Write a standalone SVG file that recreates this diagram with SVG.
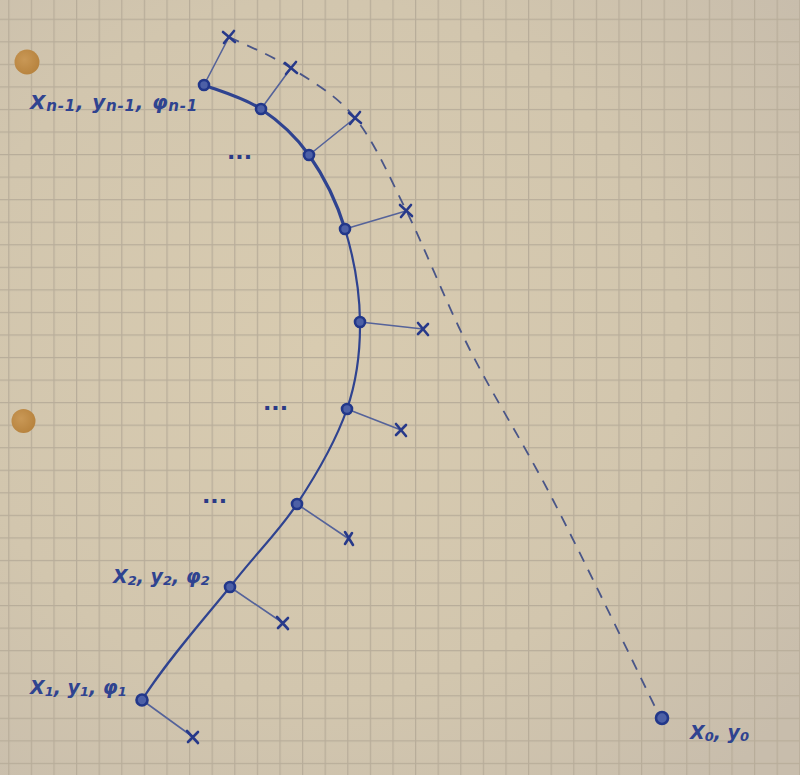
<svg xmlns="http://www.w3.org/2000/svg" width="800" height="775" viewBox="0 0 800 775">
<defs>
<radialGradient id="paper" cx="0.4" cy="0.45" r="0.75">
<stop offset="0" stop-color="#d8cbb0"/>
<stop offset="0.6" stop-color="#d2c6ae"/>
<stop offset="1" stop-color="#c8bdac"/>
</radialGradient>
<pattern id="grid" patternUnits="userSpaceOnUse" x="8.2" y="18.7" width="22.6" height="22.55">
<path d="M0.6,0 V22.55 M0,0.6 H22.6" stroke="#b8ad9a" stroke-width="1.3" fill="none"/>
</pattern>
<radialGradient id="hole" cx="0.4" cy="0.4" r="0.6">
<stop offset="0" stop-color="#c99856"/>
<stop offset="1" stop-color="#b8843f"/>
</radialGradient>
</defs>
<style>
.ink{stroke:#2f4390;fill:none;stroke-linecap:round;stroke-linejoin:round}
.main{stroke-width:3.2}
.thin{stroke-width:2.2}
.spoke{stroke:#55639a;stroke-width:1.6;fill:none;stroke-linecap:round}
.cross{stroke:#27398a;stroke-width:2.6;fill:none;stroke-linecap:round}
.node{fill:#4d60a6;stroke:#22378a;stroke-width:2.6}
.dash{stroke:#4a5688;stroke-width:1.8;fill:none;stroke-dasharray:11 9}
.lbl{font-family:"DejaVu Sans","Liberation Sans",sans-serif;font-style:italic;font-size:19px;fill:#2f4390;font-weight:bold}
.sub{font-size:13px}
.top{font-size:20px;letter-spacing:0.8px}
.top .sub{font-size:15px}
.dots{font-family:"DejaVu Sans",sans-serif;font-size:22px;fill:#2a3a86;font-weight:bold}
</style>
<rect width="800" height="775" fill="url(#paper)"/>
<rect width="800" height="775" fill="url(#grid)"/>
<circle cx="27" cy="62" r="12.5" fill="url(#hole)"/>
<circle cx="23.5" cy="421" r="12" fill="url(#hole)"/>

<g id="connectors">
<path class="ink main" d="M204,85 C213.5,89 243.5,97.3 261,109 C278.5,120.7 295,135 309,155 C323,175 336.5,201.2 345,229"/>
<path class="ink thin" d="M345,229 C353.5,256.8 359.7,292 360,322 C360.3,352 357.5,378.7 347,409 C336.5,439.3 316.5,474.5 297,504 C277.5,533.5 255.8,553.3 230,587 C204.2,618.7 166.7,661 142,700"/>
<path class="dash" d="M229,37 C239.3,42.2 270,54.5 291,68 C312,81.5 335.8,94.3 355,118 C374.2,141.7 386.8,171.3 406,210 C425.2,248.7 445.5,301.7 470,350 C494.5,398.3 521.8,439.8 553,500 C584.2,560.2 639.7,675.8 657,711"/>
</g>

<g id="node-n-1">
<line class="spoke" x1="204" y1="85" x2="229" y2="37"/>
<path class="cross" d="M223,32 L235,42 M234,31 L224,43"/>
<circle class="node" cx="204" cy="85" r="5"/>
<text class="lbl top" x="30" y="109">X<tspan class="sub" dy="2">n-1</tspan><tspan dy="-2">, y</tspan><tspan class="sub" dy="2">n-1</tspan><tspan dy="-2">, φ</tspan><tspan class="sub" dy="2">n-1</tspan></text>
</g>
<g id="node-a">
<line class="spoke" x1="261" y1="109" x2="291" y2="68"/>
<path class="cross" d="M285,63 L297,73 M296,62 L286,74"/>
<circle class="node" cx="261" cy="109" r="5"/>
</g>
<g id="node-b">
<line class="spoke" x1="309" y1="155" x2="355" y2="118"/>
<path class="cross" d="M349,113 L361,123 M360,112 L350,124"/>
<circle class="node" cx="309" cy="155" r="5"/>
<text class="dots" x="227" y="159">...</text>
</g>
<g id="node-c">
<line class="spoke" x1="345" y1="229" x2="406" y2="211"/>
<path class="cross" d="M400,205 L412,216 M411,205 L401,217"/>
<circle class="node" cx="345" cy="229" r="5"/>
</g>
<g id="node-d">
<line class="spoke" x1="360" y1="322" x2="423" y2="329"/>
<path class="cross" d="M418,323 L428,335 M428,324 L418,334"/>
<circle class="node" cx="360" cy="322" r="5"/>
</g>
<g id="node-e">
<line class="spoke" x1="347" y1="409" x2="401" y2="430"/>
<path class="cross" d="M396,424 L406,436 M406,425 L396,435"/>
<circle class="node" cx="347" cy="409" r="5"/>
<text class="dots" x="263" y="410">...</text>
</g>
<g id="node-f">
<line class="spoke" x1="297" y1="504" x2="349" y2="539"/>
<path class="cross" d="M345,532 L353,545 M352,533 L345,544"/>
<circle class="node" cx="297" cy="504" r="5"/>
<text class="dots" x="202" y="503">...</text>
</g>
<g id="node-2">
<line class="spoke" x1="230" y1="587" x2="283" y2="623"/>
<path class="cross" d="M277,617 L288,629 M288,618 L278,628"/>
<circle class="node" cx="230" cy="587" r="5"/>
<text class="lbl" x="113" y="583">X<tspan class="sub" dy="2">2</tspan><tspan dy="-2">, y</tspan><tspan class="sub" dy="2">2</tspan><tspan dy="-2">, φ</tspan><tspan class="sub" dy="2">2</tspan></text>
</g>
<g id="node-1">
<line class="spoke" x1="142" y1="700" x2="193" y2="737"/>
<path class="cross" d="M187,731 L198,743 M198,732 L188,742"/>
<circle class="node" cx="142" cy="700" r="5.5"/>
<text class="lbl" x="30" y="694">X<tspan class="sub" dy="2">1</tspan><tspan dy="-2">, y</tspan><tspan class="sub" dy="2">1</tspan><tspan dy="-2">, φ</tspan><tspan class="sub" dy="2">1</tspan></text>
</g>
<g id="node-0">
<circle class="node" cx="662" cy="718" r="6"/>
<text class="lbl" x="690" y="739">X<tspan class="sub" dy="2">0</tspan><tspan dy="-2">, y</tspan><tspan class="sub" dy="2">0</tspan></text>
</g>
</svg>
